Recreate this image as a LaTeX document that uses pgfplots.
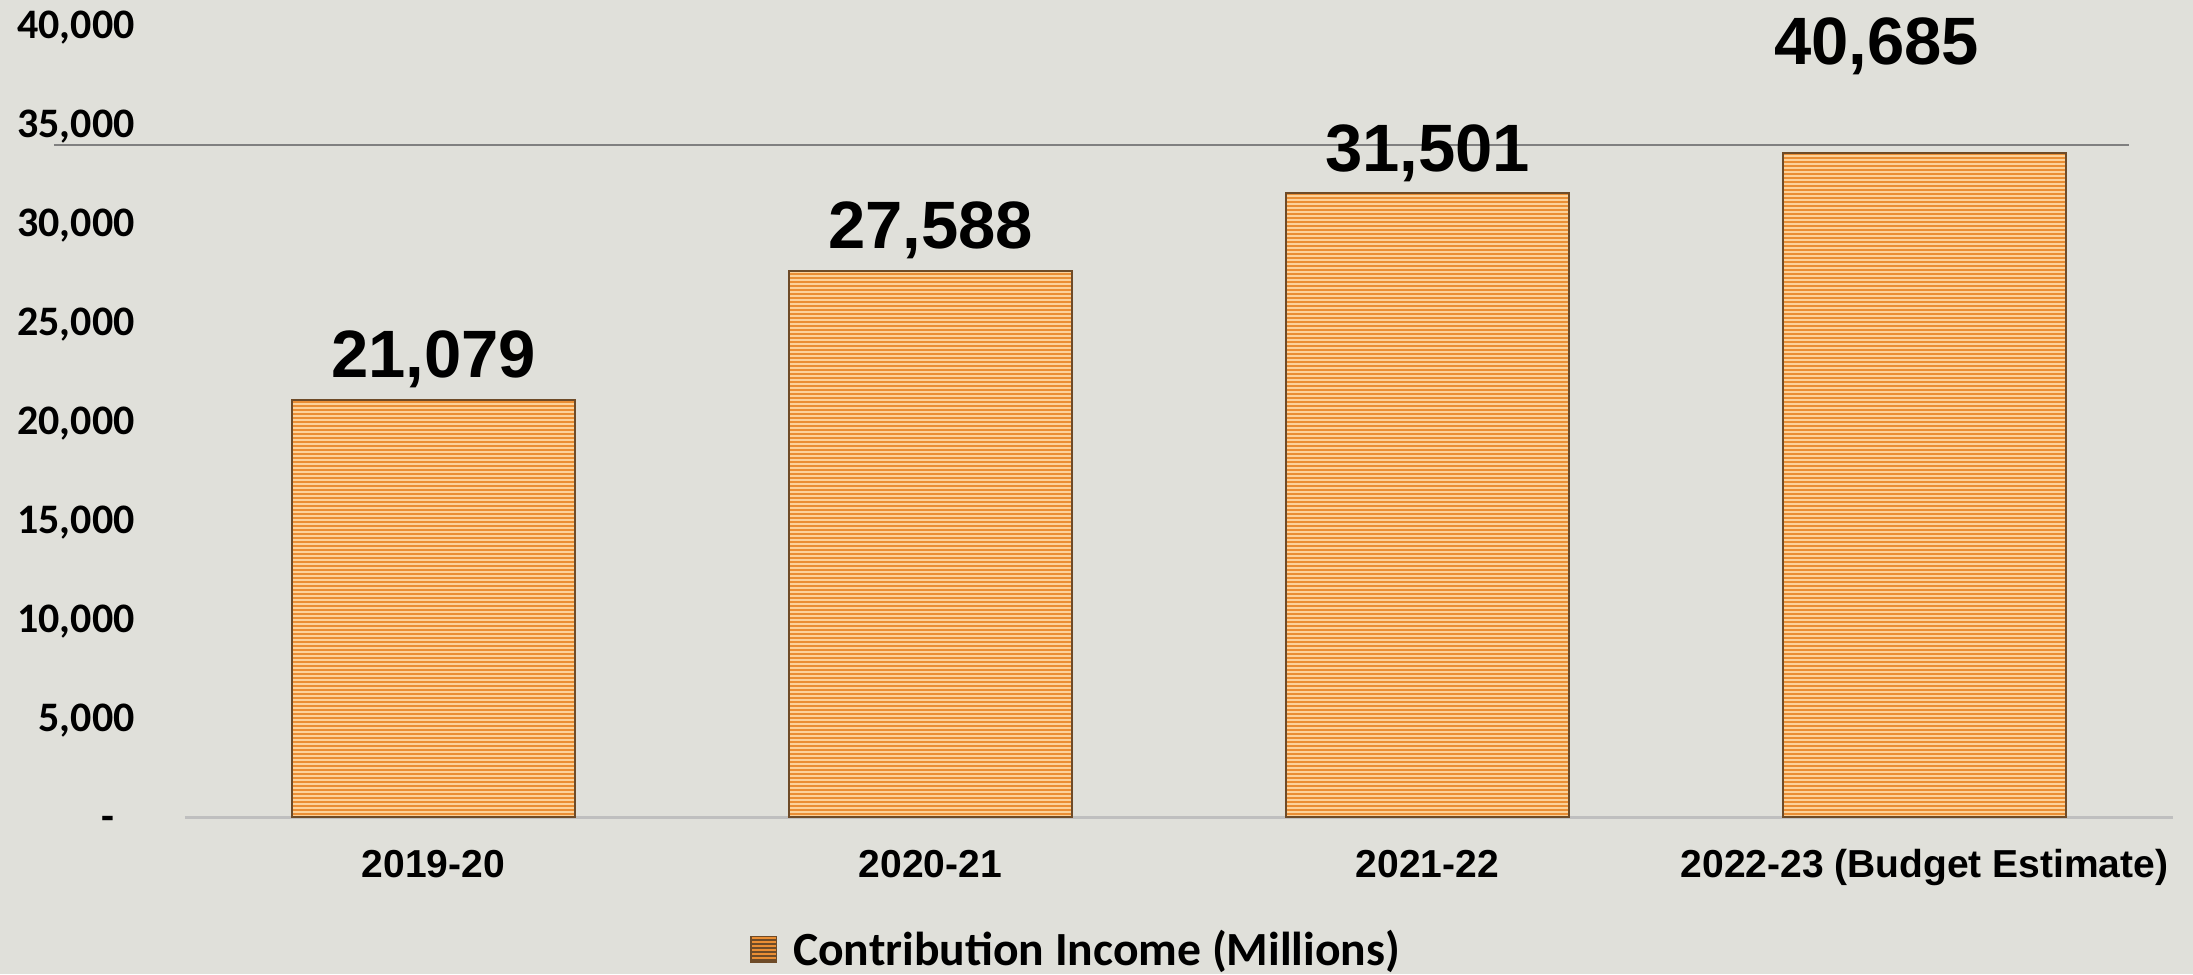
\documentclass[border=0pt]{standalone}
\usepackage{fontspec}
\setmainfont{Liberation Sans}
\newfontfamily\calibri{Carlito}
\usepackage{pgfplots}
\pgfplotsset{compat=1.18}
\usetikzlibrary{patterns.meta,backgrounds,calc}

\definecolor{bg}{RGB}{224,224,218}
\definecolor{barlight}{RGB}{252,210,155}
\definecolor{barstripe}{RGB}{234,142,52}
\definecolor{baredge}{RGB}{110,75,40}
\definecolor{axisgrey}{RGB}{191,191,191}
\definecolor{strayline}{RGB}{128,128,128}

\tikzset{
  barstyle/.style={fill=barlight, draw=baredge, line width=0.9pt,
    postaction={pattern={Lines[angle=0,distance=2pt,line width=1pt]}, pattern color=barstripe}},
  biglabel/.style={font=\fontsize{33.5}{40}\selectfont\bfseries, text=black, inner sep=0pt},
}

\begin{document}
\begin{tikzpicture}
\begin{axis}[
    name=main,
    width=994pt, height=396pt, scale only axis,
    xmin=-0.5, xmax=3.5, ymin=0, ymax=40000,
    scaled y ticks=false,
    axis x line*=bottom, axis y line*=left,
    x axis line style={draw=axisgrey, line width=1.5pt},
    y axis line style={draw=none},
    major tick length=0pt,
    xtick={0,1,2,3},
    xticklabels={2019-20,2020-21,2021-22,2022-23 (Budget Estimate)},
    ytick={0,5000,10000,15000,20000,25000,30000,35000,40000},
    yticklabels={{-\hspace*{10pt}},{5,000},{10,000},{15,000},{20,000},{25,000},{30,000},{35,000},{40,000}},
    xticklabel style={font=\fontsize{19.5}{23}\selectfont\bfseries, anchor=base, inner sep=0pt, yshift=-30pt},
    yticklabel style={font=\calibri\fontsize{21}{25}\selectfont\bfseries, anchor=base east, inner sep=0pt, xshift=-25pt, yshift=-6.7pt},
    ybar, bar width=141.5pt, bar shift=0pt,
    clip=false,
    legend style={at={(0.2842,-0.167)}, anchor=west, draw=none, fill=none, inner sep=0pt,
        font=\calibri\fontsize{23.8}{28}\selectfont\bfseries},
    legend image code/.code={
        \fill[barlight] (0pt,-6.25pt) rectangle (12.5pt,6.25pt);
        \fill[pattern={Lines[angle=0,distance=2pt,line width=1pt]}, pattern color=barstripe] (0pt,-6.25pt) rectangle (12.5pt,6.25pt);
        \draw[baredge, line width=0.5pt] (0pt,-6.25pt) rectangle (12.5pt,6.25pt);
        \path (18.5pt,0pt);
    },
]
% bars with value labels
\addplot[barstyle, nodes near coords={\pgfplotspointmeta}, point meta=explicit symbolic,
    nodes near coords style={biglabel, anchor=base, yshift=11pt}]
    coordinates {(0,21079) [21,079] (1,27588) [27,588] (2,31501) [31,501]};
\addlegendentry{Contribution Income (Millions)}
% last bar is drawn shorter than its label in the source chart
\addplot[barstyle, forget plot] coordinates {(3,33550)};
\node[biglabel, anchor=base] at (axis cs:2.904,38030) {40,685};
\draw[strayline, line width=0.8pt] (axis cs:-0.764,33940) -- (axis cs:3.411,33940);
\end{axis}
\begin{scope}[on background layer]
\fill[bg] ($(main.south west)+(-92.5pt,-78.5pt)$) rectangle +(1096.5pt,487pt);
\end{scope}
\pgfresetboundingbox
\path[use as bounding box] ($(main.south west)+(-92.5pt,-78.5pt)$) rectangle +(1096.5pt,487pt);
\end{tikzpicture}
\end{document}
